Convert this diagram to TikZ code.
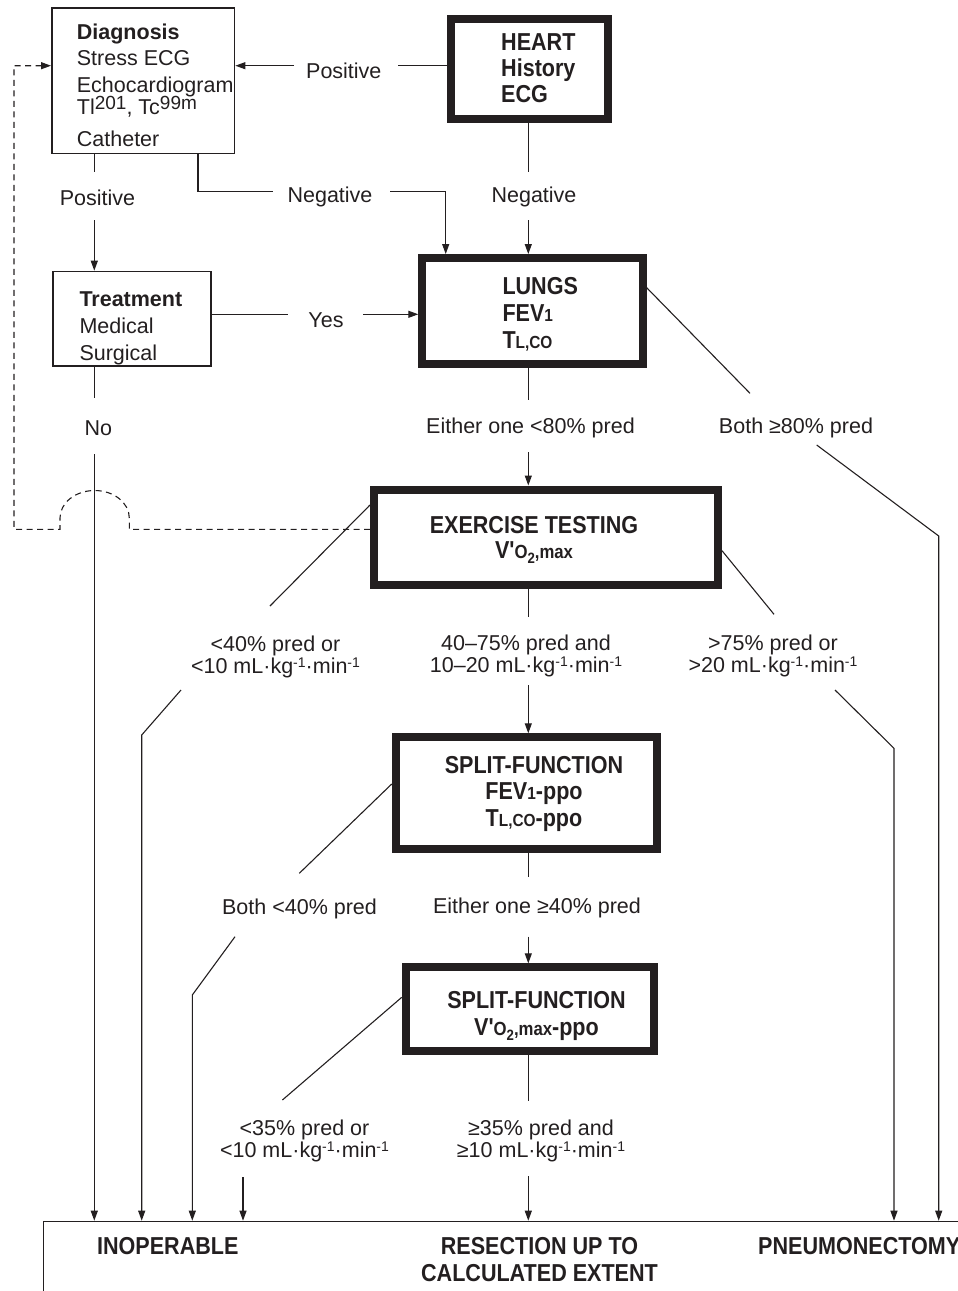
\documentclass[tikz,border=0pt]{standalone}
\usepackage{fontspec}
\setmainfont{Liberation Sans}[Ligatures=TeXOff]
\newfontfamily\heavyfam{Liberation Sans}[FakeStretch=0.88,Ligatures=TeXOff]
\usetikzlibrary{arrows.meta}
\definecolor{ink}{HTML}{231F20}
\newcommand\mlines[2][c]{\begin{tabular}[t]{@{}#1@{}}#2\end{tabular}}
\newcommand\lblfont{\fontsize{21.5}{26.7}\selectfont}
\newcommand\twofont{\fontsize{21.5}{22.8}\selectfont}
\newcommand\hvfont[1]{\heavyfam\bfseries\fontsize{24.5}{#1}\selectfont}
\newcommand\supx[1]{\raisebox{6pt}{\fontsize{14}{14}\selectfont #1}}
\newcommand\smc[1]{{\fontsize{17.5}{17.5}\selectfont #1}}
\newcommand\vomax{V'{\fontsize{19}{19}\selectfont O\raisebox{-5pt}{\fontsize{15}{15}\selectfont 2},max}}
\newcommand\isosup[1]{\raisebox{5pt}{\fontsize{19}{19}\selectfont #1}}
\tikzset{
  ln/.style={draw=ink, line width=1.1pt},
  arr/.style={ln, -{Triangle[length=10pt,width=7pt]}},
  dsh/.style={ln, dash pattern=on 6pt off 4.5pt},
  thinbox/.style={draw=ink, line width=1.5pt, inner sep=0pt},
  thickbox/.style={draw=ink, line width=8pt, inner sep=0pt},
  txt/.style={inner sep=0pt, text=ink, font=\lblfont},
  hvy/.style={inner sep=0pt, text=ink},
}
\begin{document}
\begin{tikzpicture}[x=1pt,y=-1pt]
\useasboundingbox (0,0) rectangle (958,1291);
\clip (0,0) rectangle (958,1291);
% boxes
\node[thinbox, minimum width=182.8pt, minimum height=145.5pt] (diag) at (143.2,80.8) {};
\node[thickbox, minimum width=157.5pt, minimum height=99.2pt] (heart) at (529.7,68.9) {};
\node[thinbox, minimum width=157.9pt, minimum height=94.5pt] (treat) at (132,318.7) {};
\node[thickbox, minimum width=220.4pt, minimum height=106.3pt] (lungs) at (532.5,311.2) {};
\node[thickbox, minimum width=344pt, minimum height=95pt] (ex) at (546,537) {};
\node[thickbox, minimum width=261.3pt, minimum height=112pt] (sp1) at (526.4,793.3) {};
\node[thickbox, minimum width=248.3pt, minimum height=83.7pt] (sp2) at (529.9,1009.2) {};
\node[thinbox, anchor=north west, minimum width=1000pt, minimum height=200pt] (out) at (42.8,1220.7) {};
% box texts
\node[txt, anchor=base west] (diagt) at (76.7,39) {\mlines[l]{\textbf{Diagnosis}\\Stress ECG\\Echocardiogram\\[-4.5pt]Tl\isosup{201}, Tc\isosup{99m}\\[5.5pt]Catheter}};
\node[hvy, font=\hvfont{25.8}, anchor=base west] (heartt) at (501,50.7) {\mlines[l]{HEART\\History\\ECG}};
\node[txt, anchor=base west] (treatt) at (79.3,306.7) {\mlines[l]{\textbf{Treatment}\\Medical\\Surgical}};
\node[hvy, font=\hvfont{27.3}, anchor=base west] (lungst) at (502.3,294.3) {\mlines[l]{LUNGS\\FEV\smc{1}\\T\smc{L,CO}}};
\node[hvy, font=\hvfont{24.7}, anchor=base] (ext) at (534,533.3) {\mlines{EXERCISE TESTING\\\vomax}};
\node[hvy, font=\hvfont{26.4}, anchor=base] (sp1t) at (534,773.3) {\mlines{SPLIT-FUNCTION\\FEV\smc{1}-ppo\\T\smc{L,CO}-ppo}};
\node[hvy, font=\hvfont{26.7}, anchor=base] (sp2t) at (536.5,1008.3) {\mlines{SPLIT-FUNCTION\\\vomax-ppo}};
\node[hvy, font=\hvfont{27.7}, anchor=base] (inop) at (167.8,1254) {INOPERABLE};
\node[hvy, font=\hvfont{27.7}, anchor=base] (resect) at (539.5,1254) {\mlines{RESECTION UP TO\\CALCULATED EXTENT}};
\node[hvy, font=\hvfont{27.7}, anchor=base west] (pneu) at (758,1254) {PNEUMONECTOMY};
% labels
\node[txt, anchor=base] (pos1) at (343.8,78.7) {Positive};
\node[txt, anchor=base] (pos2) at (97.5,205) {Positive};
\node[txt, anchor=base] (neg1) at (330,202.3) {Negative};
\node[txt, anchor=base] (neg2) at (534,202.3) {Negative};
\node[txt, anchor=base] (yes) at (326,327.3) {Yes};
\node[txt, anchor=base] (no) at (98.3,435) {No};
\node[txt, anchor=base] (e80) at (530.5,433.3) {Either one <80\% pred};
\node[txt, anchor=base] (b80) at (796,433.3) {Both ≥80\% pred};
\node[txt, font=\twofont, anchor=base] (lt40) at (275.5,651) {\mlines{<40\% pred or\\<10 mL·kg\supx{-1}·min\supx{-1}}};
\node[txt, font=\twofont, anchor=base] (mid) at (526,650) {\mlines{40–75\% pred and\\10–20 mL·kg\supx{-1}·min\supx{-1}}};
\node[txt, font=\twofont, anchor=base] (gt75) at (773,650) {\mlines{>75\% pred or\\>20 mL·kg\supx{-1}·min\supx{-1}}};
\node[txt, anchor=base] (b40) at (299.5,914.3) {Both <40\% pred};
\node[txt, anchor=base] (e40) at (537,913.3) {Either one ≥40\% pred};
\node[txt, font=\twofont, anchor=base] (lt35) at (304.5,1135) {\mlines{<35\% pred or\\<10 mL·kg\supx{-1}·min\supx{-1}}};
\node[txt, font=\twofont, anchor=base] (ge35) at (541,1135) {\mlines{≥35\% pred and\\≥10 mL·kg\supx{-1}·min\supx{-1}}};
% connector break points
\coordinate (c1) at (398,65.7);  \coordinate (c2) at (294,65.7);
\coordinate (c3) at (528.3,172); \coordinate (c4) at (528.3,220);
\coordinate (c5) at (198,191.3); \coordinate (c6) at (273,191.3);
\coordinate (c7) at (390,191.3); \coordinate (c8) at (445.7,191.3);
\coordinate (c9) at (94.3,172);  \coordinate (c10) at (94.3,220);
\coordinate (c11) at (288.3,314.3); \coordinate (c12) at (363.3,314.3);
\coordinate (c13) at (94.3,398.3);  \coordinate (c14) at (94.3,454.3);
\coordinate (d1) at (129.3,529.3); \coordinate (d2) at (14,529.3); \coordinate (d3) at (14,65.7);
\coordinate (l1) at (528.3,400); \coordinate (l2) at (528.3,452);
\coordinate (r1) at (750,393.3); \coordinate (r2) at (816.7,445); \coordinate (r3) at (938.7,536);
\coordinate (e1) at (270,606); \coordinate (e2) at (181,690); \coordinate (e3) at (141.7,735);
\coordinate (m1) at (528.3,617); \coordinate (m2) at (528.3,685);
\coordinate (g1) at (774,614.3); \coordinate (g2) at (835,690); \coordinate (g3) at (894,748.3);
\coordinate (s1) at (299.3,873.3); \coordinate (s2) at (235,936.7); \coordinate (s3) at (192.3,995);
\coordinate (t1) at (528.3,876.7); \coordinate (t2) at (528.3,936.7);
\coordinate (u1) at (282.4,1100); \coordinate (u2) at (243,1177);
\coordinate (v1) at (528.3,1100.7); \coordinate (v2) at (528.3,1176);
% connectors
\draw[ln] (heart.west |- c1) -- (c1);
\draw[arr] (c2) -- (diag.east |- c2);
\draw[ln] (heart.south -| c3) -- (c3);
\draw[arr] (c4) -- (lungs.north -| c4);
\draw[ln] (diag.south -| c5) -- (c5) -- (c6);
\draw[arr] (c7) -- (c8) -- (lungs.north -| c8);
\draw[ln] (diag.south -| c9) -- (c9);
\draw[arr] (c10) -- (treat.north -| c10);
\draw[ln] (treat.east |- c11) -- (c11);
\draw[arr] (c12) -- (lungs.west |- c12);
\draw[ln] (treat.south -| c13) -- (c13);
\draw[arr] (c14) -- (out.north -| c14);
\draw[dsh, -{Triangle[length=10pt,width=7pt]}] (ex.west |- d1) -- (d1) -- ++(0,-11.3)
  arc[start angle=0, end angle=180, x radius=34.65pt, y radius=27.5pt] -- ++(0,11.3)
  -- (d2) -- (d3) -- (diag.west |- d3);
\draw[ln] (lungs.south -| l1) -- (l1);
\draw[arr] (l2) -- (ex.north -| l2);
\draw[ln] ([yshift=23.5pt]lungs.east) -- (r1);
\draw[arr] (r2) -- (r3) -- (out.north -| r3);
\draw[ln] ([yshift=32pt]ex.west) -- (e1);
\draw[arr] (e2) -- (e3) -- (out.north -| e3);
\draw[ln] (ex.south -| m1) -- (m1);
\draw[arr] (m2) -- (sp1.north -| m2);
\draw[ln] ([yshift=-13.7pt]ex.east) -- (g1);
\draw[arr] (g2) -- (g3) -- (out.north -| g3);
\draw[ln] ([yshift=9.3pt]sp1.west) -- (s1);
\draw[arr] (s2) -- (s3) -- (out.north -| s3);
\draw[ln] (sp1.south -| t1) -- (t1);
\draw[arr] (t2) -- (sp2.north -| t2);
\draw[ln] ([yshift=11.9pt]sp2.west) -- (u1);
\draw[arr] (u2) -- (out.north -| u2);
\draw[ln] (sp2.south -| v1) -- (v1);
\draw[arr] (v2) -- (out.north -| v2);
\end{tikzpicture}
\end{document}
